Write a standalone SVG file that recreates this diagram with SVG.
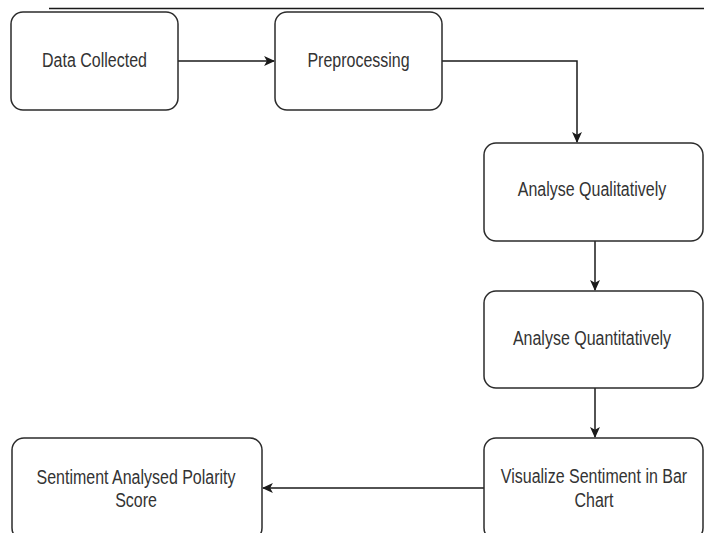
<svg xmlns="http://www.w3.org/2000/svg" width="704" height="533" viewBox="0 0 704 533">
<style>
.box{fill:#fff;stroke:#2b2b2b;stroke-width:1.5}
.lbl{font-family:"Liberation Sans",Arial,sans-serif;font-size:16px;fill:#333;text-anchor:middle}
.edge{fill:none;stroke:#1a1a1a;stroke-width:1.5}
</style>
<defs>
<marker id="arr" viewBox="0 0 10 10" refX="9" refY="5" markerWidth="11" markerHeight="11" markerUnits="userSpaceOnUse" orient="auto">
<path d="M0,0.5 L10,5 L0,9.5 L2.5,5 Z" fill="#1a1a1a"/>
</marker>
</defs>
<rect width="704" height="533" fill="#fff"/>
<line x1="49" y1="8.5" x2="704" y2="8.5" stroke="#1a1a1a" stroke-width="1.5"/>
<g id="connectors">
<path class="edge" d="M178,61 H274" marker-end="url(#arr)"/>
<path class="edge" d="M442,61 H577 V142" marker-end="url(#arr)"/>
<path class="edge" d="M595,241 V290" marker-end="url(#arr)"/>
<path class="edge" d="M595,388 V437" marker-end="url(#arr)"/>
<path class="edge" d="M484,488 H263" marker-end="url(#arr)"/>
</g>
<g id="data-collected">
<rect class="box" x="11" y="12" width="167" height="98" rx="12"/>
<text class="lbl" transform="translate(94.5,66.5) scale(1,1.22)">Data Collected</text>
</g>
<g id="preprocessing">
<rect class="box" x="275" y="12" width="167" height="98" rx="12"/>
<text class="lbl" transform="translate(358.5,66.5) scale(1,1.22)">Preprocessing</text>
</g>
<g id="analyse-qualitatively">
<rect class="box" x="484" y="143" width="219" height="98" rx="12"/>
<text class="lbl" transform="translate(592,196) scale(1,1.22)">Analyse Qualitatively</text>
</g>
<g id="analyse-quantitatively">
<rect class="box" x="484" y="291" width="219" height="97" rx="12"/>
<text class="lbl" transform="translate(592,345) scale(1,1.22)">Analyse Quantitatively</text>
</g>
<g id="visualize">
<rect class="box" x="484" y="438" width="219" height="102" rx="12"/>
<text class="lbl" transform="translate(594,483) scale(1,1.22)"><tspan x="0" y="0">Visualize Sentiment in Bar</tspan><tspan x="0" dy="19.5">Chart</tspan></text>
</g>
<g id="polarity-score">
<rect class="box" x="12" y="438" width="250" height="102" rx="12"/>
<text class="lbl" transform="translate(136,484) scale(1,1.22)"><tspan x="0" y="0">Sentiment Analysed Polarity</tspan><tspan x="0" dy="19">Score</tspan></text>
</g>
</svg>
